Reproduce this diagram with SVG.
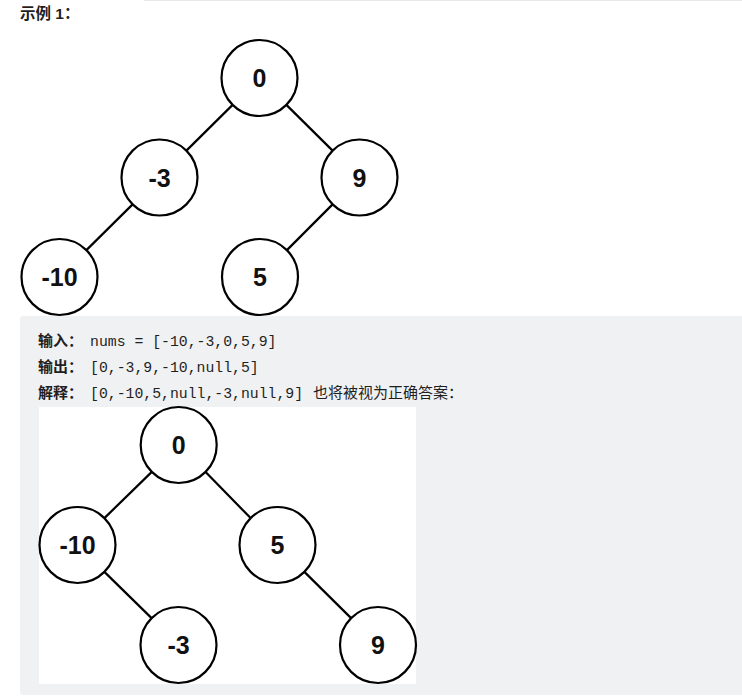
<svg xmlns="http://www.w3.org/2000/svg" width="742" height="697" viewBox="0 0 742 697">
<style>
.node circle{fill:#fff;stroke:#000;stroke-width:2.2}
.node text{font-family:"Liberation Sans",Arial,sans-serif;font-weight:bold;font-size:25px;text-anchor:middle;fill:#111}
.edges line{stroke:#000;stroke-width:2.2}
.cn{font-family:"Liberation Sans","Noto Sans CJK SC",sans-serif;font-size:15px;fill:#1f1f1f}
.b{font-weight:bold}
.mono{font-family:"Liberation Mono","DejaVu Sans Mono",monospace;font-size:14.8px;fill:#1f1f1f}
</style>
<rect width="742" height="697" fill="#fff"/>
<line x1="144" y1="0.5" x2="742" y2="0.5" stroke="#e8e8e8" stroke-width="1"/>
<text x="20" y="19" class="cn b" style="font-size:15.5px">示例 1：</text>

<g class="edges" id="edges-top">
<line x1="232.6" y1="104.9" x2="186.4" y2="150.6"/>
<line x1="286.4" y1="104.9" x2="332.6" y2="150.6"/>
<line x1="132.6" y1="204.4" x2="86.4" y2="250.1"/>
<line x1="332.6" y1="204.4" x2="286.9" y2="250.1"/>
</g>
<g class="node" id="t1-n0"><circle cx="259.5" cy="78" r="38"/><text x="259.5" y="87">0</text></g>
<g class="node" id="t1-n-3"><circle cx="159.5" cy="177.5" r="38"/><text x="159.5" y="186.5">-3</text></g>
<g class="node" id="t1-n9"><circle cx="359.5" cy="177.5" r="38"/><text x="359.5" y="186.5">9</text></g>
<g class="node" id="t1-n-10"><circle cx="59.5" cy="277" r="38"/><text x="59.5" y="286">-10</text></g>
<g class="node" id="t1-n5"><circle cx="260" cy="277" r="38"/><text x="260" y="286">5</text></g>

<rect x="20" y="316" width="730" height="379" rx="3" fill="#f0f1f3"/>
<text x="38" y="346" class="cn"><tspan class="b">输入：</tspan></text>
<text x="90" y="346" class="mono">nums = [-10,-3,0,5,9]</text>
<text x="38" y="372" class="cn"><tspan class="b">输出：</tspan></text>
<text x="90" y="372" class="mono">[0,-3,9,-10,null,5]</text>
<text x="38" y="398" class="cn"><tspan class="b">解释：</tspan></text>
<text x="90" y="398" class="mono">[0,-10,5,null,-3,null,9]</text>
<text x="313" y="398" class="cn">也将被视为正确答案：</text>

<rect x="39" y="407" width="377" height="277" fill="#fff"/>
<g class="edges" id="edges-bottom">
<line x1="151.8" y1="471.9" x2="104.4" y2="518.1"/>
<line x1="205.6" y1="471.9" x2="250.6" y2="518.1"/>
<line x1="104.4" y1="571.9" x2="151.6" y2="618.1"/>
<line x1="304.4" y1="571.9" x2="351.1" y2="618.1"/>
</g>
<g class="node" id="t2-n0"><circle cx="178.7" cy="445" r="38"/><text x="178.7" y="454">0</text></g>
<g class="node" id="t2-n-10"><circle cx="77.5" cy="545" r="38"/><text x="77.5" y="554">-10</text></g>
<g class="node" id="t2-n5"><circle cx="277.5" cy="545" r="38"/><text x="277.5" y="554">5</text></g>
<g class="node" id="t2-n-3"><circle cx="178.5" cy="645" r="38"/><text x="178.5" y="654">-3</text></g>
<g class="node" id="t2-n9"><circle cx="378" cy="645" r="38"/><text x="378" y="654">9</text></g>
</svg>
